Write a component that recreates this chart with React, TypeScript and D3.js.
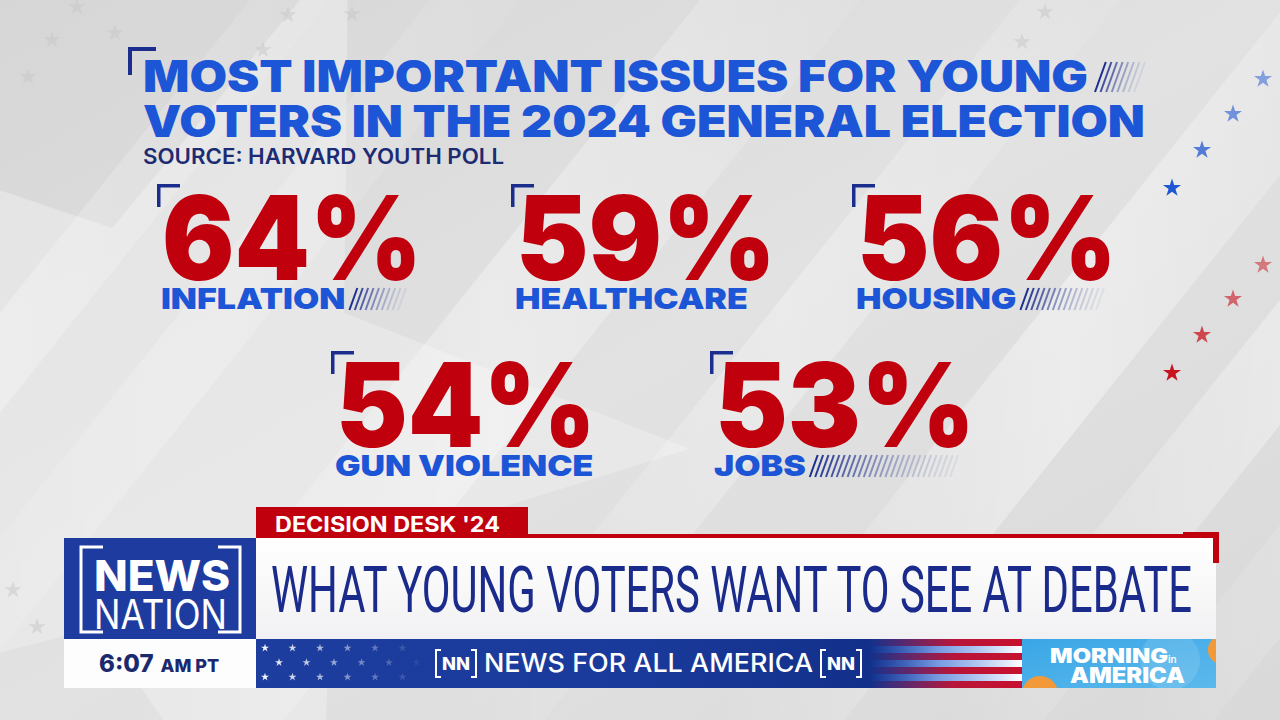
import React, { useMemo } from "react";
import * as d3 from "d3";

// ---------- data ----------
const titleLines = ["MOST IMPORTANT ISSUES FOR YOUNG", "VOTERS IN THE 2024 GENERAL ELECTION"];
const sourceText = "SOURCE: HARVARD YOUTH POLL";
const issueLabels = ["INFLATION", "HEALTHCARE", "HOUSING", "GUN VIOLENCE", "JOBS"];
const issueValues = [64, 59, 56, 54, 53];
const bannerTag = "DECISION DESK '24";
const headline = "WHAT YOUNG VOTERS WANT TO SEE AT DEBATE";
const tickerText = "NEWS FOR ALL AMERICA";
const clockTime = "6:07";
const clockZone = "AM PT";
const logoWords = ["NEWS", "NATION"];
const showWords = ["MORNING", "in", "AMERICA"];

const W = 1280;
const H = 720;
const RED = "#c1000e";
const BLUE = "#1c55d6";
const NAVY = "#1b2e8e";
const HEAVY = "Inter, 'Open Sans', 'DejaVu Sans', sans-serif";

function starPath(r: number) {
  return d3.symbol().type(d3.symbolStar).size((r * r) / 0.8908130915292852)() as string;
}

function measure(text: string, font: string) {
  const ctx = document.createElement("canvas").getContext("2d");
  if (!ctx) return text.length * 18;
  ctx.font = font;
  return ctx.measureText(text).width;
}

function Hatch({ x0, x1, y0, y1, step = 5.4 }: { x0: number; x1: number; y0: number; y1: number; step?: number }) {
  const xs = d3.range(x0, x1 - 8, step);
  const col = d3.scaleLinear<string>().domain([x0, x1 - 8]).range([NAVY, "#c8cbd6"]).interpolate(d3.interpolateRgb);
  const op = d3.scaleLinear().domain([x0, x1 - 8]).range([1, 0.35]);
  const slant = (y1 - y0) * 0.36;
  return (
    <g>
      {xs.map((x, i) => (
        <line key={i} x1={x} y1={y1} x2={x + slant} y2={y0} stroke={col(x)} strokeOpacity={op(x)} strokeWidth={2} />
      ))}
    </g>
  );
}

function Corner({ x, y, arm, t, color }: { x: number; y: number; arm: number; t: number; color: string }) {
  return <path d={`M${x},${y}H${x + arm}V${y + t}H${x + t}V${y + arm}H${x}Z`} fill={color} />;
}

function NNBadge({ x, y }: { x: number; y: number }) {
  const w = 40, h = 27, tip = 5;
  return (
    <g>
      <path d={`M${x + tip},${y}H${x}V${y + h}H${x + tip}`} fill="none" stroke="#fff" strokeWidth={2} />
      <path d={`M${x + w - tip},${y}H${x + w}V${y + h}H${x + w - tip}`} fill="none" stroke="#fff" strokeWidth={2} />
      <text x={x + w / 2} y={y + 20} textAnchor="middle" fontFamily={HEAVY} fontWeight={800} fontSize={17} fill="#fff" textLength={28} lengthAdjust="spacingAndGlyphs">NN</text>
    </g>
  );
}

export default function App() {
  const slots = [
    [157, 184],
    [511, 184],
    [852, 184],
    [331, 351],
    [710, 351],
  ];
  const numberWidth = 260;
  const labelStretch = 1.17;
  const labelFont = `900 29px ${HEAVY}`;
  const labelWidths = useMemo(() => issueLabels.map((l) => measure(l, labelFont) * labelStretch), []);

  // background bands along x + 0.8y = c
  const bands = [
    { c0: 250, c1: 330, o: 0.28 },
    { c0: 430, c1: 520, o: 0.22 },
    { c0: 700, c1: 860, o: 0.35 },
    { c0: 1020, c1: 1120, o: 0.3 },
    { c0: 1290, c1: 1420, o: 0.4 },
    { c0: 1520, c1: 1620, o: 0.35 },
    { c0: 1700, c1: 1790, o: 0.3 },
  ];

  const faintStars = [
    [52, 40], [28, 77], [77, 7], [115, 33], [288, 15], [263, 50], [1045, 12], [1022, 42], [13, 590], [37, 627], [352, 14],
  ];
  const blueStars = [
    [1263, 79, 0.5],
    [1233, 114, 0.6],
    [1202, 150, 0.75],
    [1172, 188, 1],
  ];
  const redStars = [
    [1263, 265, 0.5],
    [1233, 299, 0.6],
    [1202, 335, 0.75],
    [1172, 373, 1],
  ];

  const tickerStarRows = [0, 1, 2].map((r) =>
    d3.range(6).map((i) => ({ x: 265 + (r === 1 ? 14 : 0) + i * 27.5, y: 648 + r * 14.5 }))
  );
  const starOpacity = d3.scaleLinear().domain([265, 420]).range([0.95, 0.05]).clamp(true);

  const stripeYs = d3.range(7).map((i) => 639 + i * 7);

  const bigStar = d3
    .lineRadial<number>()
    .angle((_, i) => (i * Math.PI) / 5 + 0.35)
    .radius((_, i) => (i % 2 === 0 ? 520 : 210))
    .curve(d3.curveLinearClosed)(d3.range(10)) as string;

  return (
    <svg width={W} height={H} style={{ position: "absolute", left: 0, top: 0, display: "block" }}>
      <defs>
        <linearGradient id="bg" x1="0" y1="0" x2="1" y2="1">
          <stop offset="0" stopColor="#d6d6d6" />
          <stop offset="0.5" stopColor="#e2e2e2" />
          <stop offset="1" stopColor="#d9d9d9" />
        </linearGradient>
        <linearGradient id="band" x1="0" y1="0" x2="1" y2="0">
          <stop offset="0" stopColor="#ffffff" stopOpacity="0" />
          <stop offset="0.5" stopColor="#ffffff" stopOpacity="1" />
          <stop offset="1" stopColor="#ffffff" stopOpacity="0.2" />
        </linearGradient>
        <linearGradient id="ticker" x1="0" y1="0" x2="1" y2="0">
          <stop offset="0" stopColor="#1d3e9f" />
          <stop offset="0.5" stopColor="#1a3a9b" />
          <stop offset="0.8" stopColor="#12308a" />
          <stop offset="1" stopColor="#2a4fb0" />
        </linearGradient>
        <linearGradient id="stripeRed" x1="0" y1="0" x2="1" y2="0">
          <stop offset="0" stopColor="#c8102e" stopOpacity="0" />
          <stop offset="0.55" stopColor="#c8102e" stopOpacity="0.9" />
          <stop offset="1" stopColor="#c8102e" stopOpacity="1" />
        </linearGradient>
        <linearGradient id="stripeWhite" x1="0" y1="0" x2="1" y2="0">
          <stop offset="0" stopColor="#6fa0ff" stopOpacity="0" />
          <stop offset="0.45" stopColor="#9fc2ff" stopOpacity="0.7" />
          <stop offset="1" stopColor="#ffffff" stopOpacity="1" />
        </linearGradient>
        <linearGradient id="mia" x1="0" y1="0" x2="1" y2="1">
          <stop offset="0" stopColor="#3aa6e6" />
          <stop offset="1" stopColor="#5cb9ec" />
        </linearGradient>
        <linearGradient id="whitebar" x1="0" y1="0" x2="0" y2="1">
          <stop offset="0" stopColor="#ffffff" />
          <stop offset="1" stopColor="#f1f1f3" />
        </linearGradient>
        <clipPath id="miaClip">
          <rect x={1022} y={639} width={194} height={49} />
        </clipPath>
      </defs>

      {/* background */}
      <rect width={W} height={H} fill="url(#bg)" />
      <path d={bigStar} transform="translate(170,430)" fill="#f2f2f2" opacity={0.45} />
      {bands.map((b, i) => (
        <polygon
          key={i}
          points={`${b.c0},0 ${b.c1},0 ${b.c1 - 576},${H} ${b.c0 - 576},${H}`}
          fill="url(#band)"
          opacity={b.o}
        />
      ))}
      {faintStars.map(([x, y], i) => (
        <path key={i} d={starPath(9)} transform={`translate(${x},${y})`} fill="#c9c9c9" opacity={0.55} />
      ))}
      {blueStars.map(([x, y, o], i) => (
        <path key={"b" + i} d={starPath(9.5)} transform={`translate(${x},${y})`} fill="#1f56d4" opacity={o} />
      ))}
      {redStars.map(([x, y, o], i) => (
        <path key={"r" + i} d={starPath(9.5)} transform={`translate(${x},${y})`} fill="#c8141e" opacity={o} />
      ))}

      {/* title */}
      <Corner x={128} y={47} arm={28} t={4} color={NAVY} />
      {titleLines.map((t, i) => (
        <text
          key={i}
          x={143}
          y={92 + i * 45}
          fontFamily={HEAVY}
          fontWeight={900}
          fontSize={44}
          fill={BLUE}
          textLength={i === 0 ? 945 : 1002}
          lengthAdjust="spacingAndGlyphs"
        >
          {t}
        </text>
      ))}
      <Hatch x0={1095} x1={1146} y0={62} y1={92} step={5.6} />
      <text x={143} y={164} fontFamily={HEAVY} fontWeight={600} fontSize={21} fill="#1c2b73" textLength={361} lengthAdjust="spacingAndGlyphs">
        {sourceText}
      </text>

      {/* stat cards */}
      {issueValues.map((v, i) => {
        const [bx, by] = slots[i];
        const labelX = bx + 4;
        const labelEnd = labelX + labelWidths[i];
        const hatchEnd = bx + 5 + numberWidth - 12;
        return (
          <g key={i}>
            <Corner x={bx} y={by} arm={23} t={3.5} color={NAVY} />
            <text
              x={bx + 5}
              y={by + 96}
              fontFamily={HEAVY}
              fontWeight={900}
              fontSize={117}
              fill={RED}
              textLength={numberWidth}
              lengthAdjust="spacingAndGlyphs"
            >
              {`${v}%`}
            </text>
            <text
              x={labelX}
              y={by + 125}
              fontFamily={HEAVY}
              fontWeight={900}
              fontSize={29}
              fill={BLUE}
              textLength={labelWidths[i]}
              lengthAdjust="spacingAndGlyphs"
            >
              {issueLabels[i]}
            </text>
            {hatchEnd - labelEnd > 40 && <Hatch x0={labelEnd + 4} x1={hatchEnd} y0={by + 104} y1={by + 126} />}
          </g>
        );
      })}

      {/* lower third */}
      <rect x={256} y={507} width={272} height={31} fill={RED} />
      <text x={275} y={532} fontFamily={HEAVY} fontWeight={700} fontSize={21} fill="#fff" textLength={225} lengthAdjust="spacingAndGlyphs">
        {bannerTag}
      </text>
      <rect x={256} y={538} width={960} height={101} fill="url(#whitebar)" />
      <rect x={256} y={534} width={958} height={4} fill={RED} />
      <rect x={1183} y={532} width={36} height={5} fill={RED} />
      <rect x={1213} y={532} width={6} height={31} fill={RED} />
      <text
        x={271}
        y={612}
        fontFamily="'Liberation Sans Narrow', Roboto, 'Liberation Sans', sans-serif"
        fontWeight={400}
        fontSize={65}
        fill="#1a2b8c"
        textLength={921}
        lengthAdjust="spacingAndGlyphs"
      >
        {headline}
      </text>

      {/* logo */}
      <rect x={64} y={538} width={192} height={101} fill="#1e3c9f" />
      <path d="M103,547H81V632H103" fill="none" stroke="#fff" strokeWidth={3} />
      <path d="M218,547H240V632H218" fill="none" stroke="#fff" strokeWidth={3} />
      <text x={94} y={591} fontFamily={HEAVY} fontWeight={800} fontSize={42} fill="#fff" textLength={136} lengthAdjust="spacingAndGlyphs">
        {logoWords[0]}
      </text>
      <text x={94} y={629} fontFamily={HEAVY} fontWeight={400} fontSize={41} fill="#fff" textLength={133} lengthAdjust="spacingAndGlyphs">
        {logoWords[1]}
      </text>

      {/* clock */}
      <rect x={64} y={639} width={192} height={49} fill="#fdfdfd" />
      <text x={99} y={672} fontFamily={HEAVY} fill="#1b2a6e">
        <tspan fontWeight={800} fontSize={24}>{clockTime}</tspan>
        <tspan fontWeight={800} fontSize={18} dx={7}>{clockZone}</tspan>
      </text>

      {/* ticker */}
      <rect x={256} y={639} width={766} height={49} fill="url(#ticker)" />
      {stripeYs.map((y, i) => (
        <rect key={i} x={870} y={y} width={152} height={7} fill={i % 2 === 0 ? "url(#stripeRed)" : "url(#stripeWhite)"} />
      ))}
      {tickerStarRows.flat().map((s, i) => (
        <path key={i} d={starPath(4.2)} transform={`translate(${s.x},${s.y})`} fill="#fff" opacity={starOpacity(s.x)} />
      ))}
      <NNBadge x={436} y={650} />
      <text x={484} y={672} fontFamily={HEAVY} fontWeight={500} fontSize={25} fill="#fff" textLength={329} lengthAdjust="spacingAndGlyphs">
        {tickerText}
      </text>
      <NNBadge x={821} y={650} />

      {/* show bug */}
      <g clipPath="url(#miaClip)">
        <rect x={1022} y={639} width={194} height={49} fill="url(#mia)" />
        <circle cx={1040} cy={694} r={18} fill="#f29a3a" />
        <circle cx={1222} cy={650} r={14} fill="#f29a3a" />
        <circle cx={1170} cy={660} r={30} fill="#ffffff" opacity={0.12} />
      </g>
      <text x={1050} y={663} fontFamily={HEAVY} fontWeight={900} fontSize={20} fill="#fff" textLength={118} lengthAdjust="spacingAndGlyphs">
        {showWords[0]}
      </text>
      <text x={1168} y={663} fontFamily={HEAVY} fontWeight={600} fontSize={10} fill="#fff">
        {showWords[1]}
      </text>
      <text x={1070} y={683} fontFamily={HEAVY} fontWeight={900} fontSize={21} fill="#fff" textLength={115} lengthAdjust="spacingAndGlyphs">
        {showWords[2]}
      </text>
    </svg>
  );
}
